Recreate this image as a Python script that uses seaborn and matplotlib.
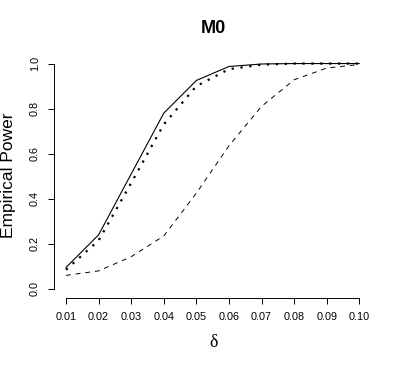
import numpy as np
import pandas as pd
import matplotlib
matplotlib.use("Agg")
import matplotlib.pyplot as plt
import seaborn as sns

# power curves
delta = [0.01, 0.02, 0.03, 0.04, 0.05, 0.06, 0.07, 0.08, 0.09, 0.10]
solid = [0.095, 0.24, 0.51, 0.78, 0.925, 0.987, 0.998, 1.0, 1.0, 1.0]
dotted = [0.085, 0.215, 0.47, 0.73, 0.90, 0.975, 0.995, 1.0, 1.0, 1.0]
dashed = [0.06, 0.08, 0.143, 0.235, 0.425, 0.635, 0.81, 0.928, 0.98, 0.996]
xticks = ["0.01", "0.02", "0.03", "0.04", "0.05", "0.06", "0.07", "0.08", "0.09", "0.10"]
yticks = ["0.0", "0.2", "0.4", "0.6", "0.8", "1.0"]

df = pd.DataFrame({"delta": delta, "solid": solid, "dotted": dotted, "dashed": dashed})

sns.set_style("white", {"text.color": "black", "xtick.color": "black",
                        "ytick.color": "black", "axes.labelcolor": "black"})
plt.rcParams['font.family'] = ['Liberation Sans', 'DejaVu Sans']

fig = plt.figure(figsize=(3.99, 3.66), dpi=100)
ax = fig.add_axes([0.136, 0.186, 0.794, 0.665])

sns.lineplot(data=df, x="delta", y="solid", ax=ax, color="black", lw=0.8)
sns.lineplot(data=df, x="delta", y="dotted", ax=ax, color="black", lw=1.6,
             linestyle=(0, (1, 3)))
sns.lineplot(data=df, x="delta", y="dashed", ax=ax, color="black", lw=0.7,
             linestyle=(0, (5, 5)))

ax.set_xlim(0.0064, 0.1036)
ax.set_ylim(-0.04, 1.04)
ax.set_xticks(delta)
ax.set_xticklabels(xticks, fontsize=7.8)
ax.set_yticks([0, 0.2, 0.4, 0.6, 0.8, 1.0])
ax.set_yticklabels(yticks, fontsize=7.8, rotation=90, va="center")
ax.tick_params(axis="both", length=4.3, width=0.7, color="black", pad=6,
               bottom=True, left=True, labelcolor="black")
for s in ["top", "right"]:
    ax.spines[s].set_visible(False)
for s in ["left", "bottom"]:
    ax.spines[s].set_color("black")
    ax.spines[s].set_linewidth(0.7)
ax.spines["left"].set_bounds(0, 1)
ax.spines["bottom"].set_bounds(0.01, 0.10)

ax.set_xlabel("")
ax.set_ylabel("")
fig.text(0.535, 0.065, "δ", fontsize=13, family="Liberation Serif", ha="center", va="center",
         color="black")
fig.text(0.022, 0.52, "Empirical Power", fontsize=12.5, rotation=90, ha="center", va="center",
         color="black")
fig.text(0.535, 0.923, "M0", fontsize=13, fontweight="bold", ha="center", va="center",
         color="black")

fig.savefig("out.png", dpi=100)
